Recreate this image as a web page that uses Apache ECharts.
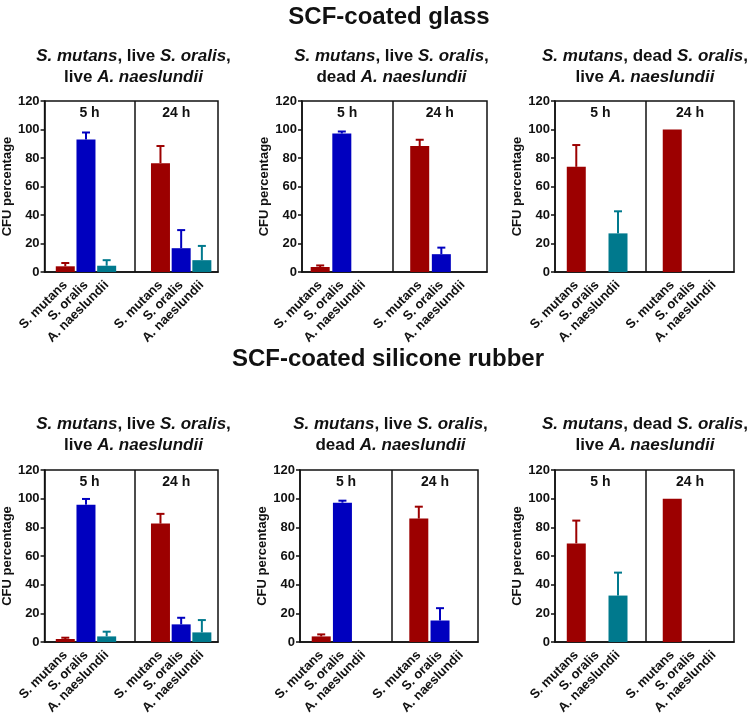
<!DOCTYPE html>
<html>
<head>
<meta charset="utf-8">
<script src="https://cdn.jsdelivr.net/npm/echarts@6/dist/echarts.min.js"></script>
<style>
html,body{margin:0;padding:0;background:#fff;}
#chart{width:747px;height:717px;}
</style>
</head>
<body>
<div id="chart"></div>
<script>
// ---------- data ----------
const species = ['S. mutans', 'S. oralis', 'A. naeslundii'];
const timepoints = ['5 h', '24 h'];
const yTicks = [0, 20, 40, 60, 80, 100, 120];
const sectionTitles = ['SCF-coated glass', 'SCF-coated silicone rubber'];

// SCF-coated glass
const glassLiveLive5h = [4.0, 93.0, 4.4];
const glassLiveLive5hSD = [2.3, 4.9, 3.9];
const glassLiveLive24h = [76.4, 16.7, 8.3];
const glassLiveLive24hSD = [12.0, 12.7, 10.0];

const glassLiveDead5h = [3.5, 97.2, 0];
const glassLiveDead5hSD = [1.1, 1.4, 0];
const glassLiveDead24h = [88.4, 12.5, 0];
const glassLiveDead24hSD = [4.4, 4.6, 0];

const glassDeadLive5h = [73.8, 0, 27.1];
const glassDeadLive5hSD = [15.3, 0, 15.5];
const glassDeadLive24h = [100, 0, 0];
const glassDeadLive24hSD = [0, 0, 0];

// SCF-coated silicone rubber
const rubberLiveLive5h = [2.1, 95.8, 3.9];
const rubberLiveLive5hSD = [0.9, 4.0, 3.3];
const rubberLiveLive24h = [82.6, 12.3, 6.7];
const rubberLiveLive24hSD = [6.8, 4.6, 8.6];

const rubberLiveDead5h = [3.9, 97.2, 0];
const rubberLiveDead5hSD = [1.4, 1.4, 0];
const rubberLiveDead24h = [86.1, 15.0, 0];
const rubberLiveDead24hSD = [8.3, 8.6, 0];

const rubberDeadLive5h = [68.8, 0, 32.4];
const rubberDeadLive5hSD = [15.9, 0, 16.0];
const rubberDeadLive24h = [100, 0, 0];
const rubberDeadLive24hSD = [0, 0, 0];

// ---------- styling / layout ----------
const FONT = '"Liberation Sans", Arial, Helvetica, sans-serif';
const colors = ['#9c0000', '#0000bf', '#00798d'];
const groupOffset = 4.6;   // axis units between the 5 h and 24 h groups
const dividerPos = 3.34;

const subtitleTexts = [
  '{i|S. mutans}{b|, live }{i|S. oralis}{b|,}\n{b|live }{i|A. naeslundii}',
  '{i|S. mutans}{b|, live }{i|S. oralis}{b|,}\n{b|dead }{i|A. naeslundii}',
  '{i|S. mutans}{b|, dead }{i|S. oralis}{b|,}\n{b|live }{i|A. naeslundii}'
];

const panels = [
  {sub: 0, m5: glassLiveLive5h, s5: glassLiveLive5hSD, m24: glassLiveLive24h, s24: glassLiveLive24hSD, L: 42, R: 218, T: 101, B: 272, xmin: -1.0, xmax: 7.38, subX: 128.5},
  {sub: 1, m5: glassLiveDead5h, s5: glassLiveDead5hSD, m24: glassLiveDead24h, s24: glassLiveDead24hSD, L: 302, R: 487, T: 101, B: 272, xmin: -0.84, xmax: 7.71, subX: 386.5},
  {sub: 2, m5: glassDeadLive5h, s5: glassDeadLive5hSD, m24: glassDeadLive24h, s24: glassDeadLive24hSD, L: 555, R: 734, T: 101, B: 272, xmin: -1.02, xmax: 7.56, subX: 640},
  {sub: 0, m5: rubberLiveLive5h, s5: rubberLiveLive5hSD, m24: rubberLiveLive24h, s24: rubberLiveLive24hSD, L: 42, R: 218, T: 470, B: 642, xmin: -1.0, xmax: 7.38, subX: 128.5},
  {sub: 1, m5: rubberLiveDead5h, s5: rubberLiveDead5hSD, m24: rubberLiveDead24h, s24: rubberLiveDead24hSD, L: 300, R: 478, T: 470, B: 642, xmin: -1.0, xmax: 7.39, subX: 385.5},
  {sub: 2, m5: rubberDeadLive5h, s5: rubberDeadLive5hSD, m24: rubberDeadLive24h, s24: rubberDeadLive24hSD, L: 555, R: 734, T: 470, B: 642, xmin: -1.02, xmax: 7.56, subX: 640}
];

const subtitleTops = [41, 409];
const sectionTitleTops = [0, 342];
const sectionTitleX = [384, 383];

// ---------- build option ----------
const titles = [];
sectionTitles.forEach((t, k) => {
  titles.push({
    text: t, left: sectionTitleX[k], top: sectionTitleTops[k], textAlign: 'center',
    textStyle: {fontFamily: FONT, fontSize: 24, fontWeight: 'bold', color: '#111'}
  });
});

const grids = [], xAxes = [], yAxes = [], series = [];

panels.forEach((p, i) => {
  const row = i < 3 ? 0 : 1;
  titles.push({
    text: subtitleTexts[p.sub],
    left: p.subX, top: subtitleTops[row], textAlign: 'center',
    textStyle: {
      fontFamily: FONT, color: '#111',
      rich: {
        i: {fontFamily: FONT, fontStyle: 'italic', fontWeight: 'bold', fontSize: 17, lineHeight: 21, color: '#111'},
        b: {fontFamily: FONT, fontWeight: 'bold', fontSize: 17, lineHeight: 21, color: '#111'}
      }
    }
  });

  grids.push({
    left: p.L, width: p.R - p.L, top: p.T, height: p.B - p.T,
    show: true, borderColor: '#111', borderWidth: 1.5, backgroundColor: 'transparent'
  });

  const positions = [], labelMap = {};
  const barData = [], errData = [];
  [p.m5, p.m24].forEach((means, g) => {
    const sds = g === 0 ? p.s5 : p.s24;
    means.forEach((v, s) => {
      const x = s + g * groupOffset;
      positions.push(x);
      labelMap[x.toFixed(2)] = species[s];
      barData.push({value: [x, v], itemStyle: {color: colors[s]}});
      if (sds[s] > 0) errData.push([x, v, sds[s], s]);
    });
  });

  xAxes.push({
    type: 'value', gridIndex: i, min: p.xmin, max: p.xmax,
    splitLine: {show: false},
    axisLine: {show: true, onZero: false, lineStyle: {color: '#111', width: 1.5}},
    axisTick: {show: false},
    axisLabel: {
      customValues: positions, rotate: 45, margin: 11, interval: 0,
      fontFamily: FONT, fontSize: 13, fontWeight: 'bold', color: '#111',
      formatter: v => labelMap[Number(v).toFixed(2)] || ''
    }
  });

  yAxes.push({
    type: 'value', gridIndex: i, min: 0, max: 120, interval: 20,
    name: 'CFU percentage', nameLocation: 'middle', nameGap: 28,
    nameTextStyle: {fontFamily: FONT, fontSize: 13, fontWeight: 'bold', color: '#111'},
    splitLine: {show: false},
    axisLine: {show: true, onZero: false, lineStyle: {color: '#111', width: 1.5}},
    axisTick: {show: true, length: 4, lineStyle: {color: '#111', width: 1.5}},
    axisLabel: {
      margin: 5,
      fontFamily: FONT, fontSize: 13, fontWeight: 'bold', color: '#111'
    }
  });

  series.push({
    type: 'bar', xAxisIndex: i, yAxisIndex: i, barWidth: 19,
    data: barData, animation: false,
    markLine: {
      silent: true, symbol: 'none', animation: false,
      label: {show: false},
      lineStyle: {color: '#111', width: 1.5, type: 'solid'},
      data: [{xAxis: dividerPos}]
    },
    markArea: {
      silent: true, animation: false,
      itemStyle: {color: 'rgba(0,0,0,0)'},
      label: {show: true, position: 'insideTop', distance: 5,
        fontFamily: FONT, fontSize: 14, fontWeight: 'bold', color: '#111'},
      data: [
        [{name: timepoints[0], xAxis: p.xmin}, {xAxis: dividerPos}],
        [{name: timepoints[1], xAxis: dividerPos}, {xAxis: p.xmax}]
      ]
    }
  });

  series.push({
    type: 'custom', xAxisIndex: i, yAxisIndex: i, animation: false, z: 3,
    data: errData,
    renderItem: function (params, api) {
      const x = api.value(0), m = api.value(1), sd = api.value(2);
      const c = colors[api.value(3)];
      const p0 = api.coord([x, m]);
      const p1 = api.coord([x, m + sd]);
      const half = 4;
      const st = {stroke: c, lineWidth: 2};
      return {
        type: 'group',
        children: [
          {type: 'line', shape: {x1: p0[0], y1: p0[1], x2: p1[0], y2: p1[1]}, style: st},
          {type: 'line', shape: {x1: p1[0] - half, y1: p1[1], x2: p1[0] + half, y2: p1[1]}, style: st}
        ]
      };
    }
  });
});

const chart = echarts.init(document.getElementById('chart'), null, {renderer: 'canvas'});
chart.setOption({
  backgroundColor: '#fff',
  animation: false,
  title: titles,
  grid: grids,
  xAxis: xAxes,
  yAxis: yAxes,
  series: series
});
</script>
</body>
</html>
